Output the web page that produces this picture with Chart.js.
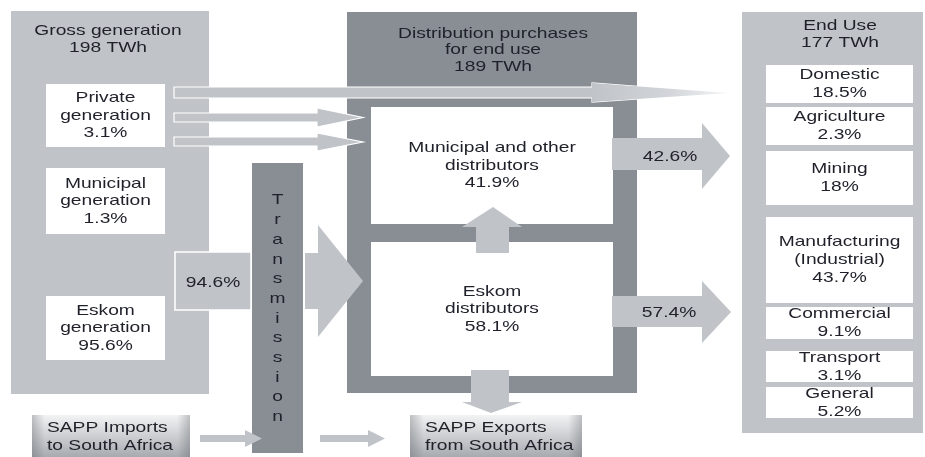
<!DOCTYPE html>
<html lang="en">

<head>
    <meta charset="UTF-8">
    <title>Electricity flows, South Africa</title>
    <script src="https://cdn.jsdelivr.net/npm/chart.js"></script>
    <style>
        body {
            margin: 0;
            background: #fff;
        }
    </style>
</head>

<body>
    <canvas id="flowChart" width="925" height="457"></canvas>

    <script>
        // values
        const totalsTWh = [198, 189, 177]; // gross generation, distribution purchases, end use
        const genLabels = ['Private\ngeneration', 'Municipal\ngeneration', 'Eskom\ngeneration'];
        const genShares = [3.1, 1.3, 95.6];
        const transmissionShare = 94.6;
        const distLabels = ['Municipal and other\ndistributors', 'Eskom\ndistributors'];
        const distShares = [41.9, 58.1];
        const flowShares = [42.6, 57.4];
        const endUseLabels = ['Domestic', 'Agriculture', 'Mining', 'Manufacturing\n(Industrial)', 'Commercial', 'Transport', 'General'];
        const endUseShares = [18.5, 2.3, 18, 43.7, 9.1, 3.1, 5.2];

        // layout, in axis units (x 0..925, y 0..457 top-down)
        const panels = [[11, 11, 209, 394], [347, 12, 637, 393], [742, 12, 923, 433]];
        const genBoxes = [[46, 84, 165, 147], [46, 168, 165, 234], [46, 296, 165, 360]];
        const distBoxes = [[371, 107, 613, 224], [371, 242, 613, 376]];
        const endBoxes = [[766, 65, 913, 103], [766, 107, 913, 145], [766, 151, 913, 205], [766, 217, 913, 303],
            [766, 307, 913, 339], [766, 351, 913, 382], [766, 387, 913, 418]];

        const LIGHT = '#c0c4c9';
        const DARK = '#898e94';
        const INK = '#1f2029';
        const FONT = '15px "Liberation Sans", Arial, sans-serif';
        const STRETCH = 1.28; // the source text is drawn wide

        const pct = v => v + '%';

        const diagram = {
            id: 'diagram',
            beforeDraw(chart) {
                const ctx = chart.ctx;
                const sx = chart.scales.x, sy = chart.scales.y;
                const X = v => sx.getPixelForValue(v);
                const Y = v => sy.getPixelForValue(v);

                function rect(b, fill, stroke) {
                    const x0 = X(b[0]), y0 = Y(b[1]), x1 = X(b[2]), y1 = Y(b[3]);
                    ctx.fillStyle = fill;
                    ctx.fillRect(x0, y0, x1 - x0, y1 - y0);
                    if (stroke) {
                        ctx.strokeStyle = stroke;
                        ctx.lineWidth = 1.5;
                        ctx.strokeRect(x0, y0, x1 - x0, y1 - y0);
                    }
                }

                function poly(pts, fill, stroke) {
                    ctx.beginPath();
                    pts.forEach((p, i) => i ? ctx.lineTo(X(p[0]), Y(p[1])) : ctx.moveTo(X(p[0]), Y(p[1])));
                    ctx.closePath();
                    ctx.fillStyle = fill;
                    ctx.fill();
                    if (stroke) {
                        ctx.strokeStyle = stroke;
                        ctx.lineWidth = 1.2;
                        ctx.stroke();
                    }
                }

                function text(lines, cx, cy, lh, align) {
                    const top = cy - (lines.length - 1) * lh / 2;
                    lines.forEach((l, i) => {
                        ctx.save();
                        ctx.font = FONT;
                        ctx.fillStyle = INK;
                        ctx.textAlign = align || 'center';
                        ctx.textBaseline = 'middle';
                        ctx.translate(X(cx), Y(top + i * lh));
                        ctx.scale(STRETCH, 1);
                        ctx.fillText(l, 0, 0);
                        ctx.restore();
                    });
                }

                const boxText = (b, lines, lh) => text(lines, (b[0] + b[2]) / 2, (b[1] + b[3]) / 2, lh);

                // big panels
                rect(panels[0], LIGHT);
                rect(panels[1], DARK);
                rect(panels[2], LIGHT);

                // white boxes
                genBoxes.forEach((b, i) => {
                    rect(b, '#fff');
                    boxText(b, [...genLabels[i].split('\n'), pct(genShares[i])], 17.5);
                });
                distBoxes.forEach((b, i) => {
                    rect(b, '#fff');
                    boxText(b, [...distLabels[i].split('\n'), pct(distShares[i])], 17.5);
                });
                endBoxes.forEach((b, i) => {
                    rect(b, '#fff');
                    boxText(b, [...endUseLabels[i].split('\n'), pct(endUseShares[i])], 18);
                });

                // panel headings
                text(['Gross generation', totalsTWh[0] + ' TWh'], 108, 39, 17);
                text(['Distribution purchases', 'for end use', totalsTWh[1] + ' TWh'], 493, 50, 16.5);
                text(['End Use', totalsTWh[2] + ' TWh'], 840, 34, 17);

                // transmission column and flow into distribution
                rect([252, 163, 303, 453], DARK);
                'Transmission'.split('').forEach((ch, i) => text([ch], 277.5, 200 + (i ? 20 + (i - 1) * 19.7 : 0), 0));
                rect([175, 252, 251, 310], LIGHT, '#fff');
                text([pct(transmissionShare)], 213, 283, 0);
                poly([[305, 253], [318, 253], [318, 225], [363, 281], [318, 337], [318, 309], [305, 309]], LIGHT);

                // private generation arrows; the long one fades out towards its tip
                const fade = ctx.createLinearGradient(X(592), 0, X(727), 0);
                fade.addColorStop(0, LIGHT);
                fade.addColorStop(0.6, '#d3d6da');
                fade.addColorStop(1, '#f4f5f6');
                poly([[174, 87], [592, 87], [592, 83], [727, 93], [592, 102], [592, 98], [174, 98]], LIGHT, '#fff');
                poly([[592, 83], [727, 93], [592, 102]], fade);
                poly([[174, 113], [317, 113], [317, 108], [363, 117.5], [317, 127], [317, 122], [174, 122]], LIGHT, '#fff');
                poly([[174, 137], [317, 137], [317, 133], [363, 142], [317, 151], [317, 146], [174, 146]], LIGHT, '#fff');

                // Eskom -> municipal, Eskom -> exports
                poly([[476, 253], [476, 227], [462, 227], [493, 207], [522, 227], [509, 227], [509, 253]], LIGHT);
                poly([[471, 370], [509, 370], [509, 402], [522, 402], [491, 413], [462, 402], [471, 402]], LIGHT);

                // distribution -> end use
                poly([[612, 138], [702, 138], [702, 123], [730, 156], [702, 189], [702, 170], [612, 170]], LIGHT);
                poly([[612, 296], [702, 296], [702, 281], [731, 312], [702, 343], [702, 327], [612, 327]], LIGHT);
                text([pct(flowShares[0])], 670, 157, 0);
                text([pct(flowShares[1])], 669, 313, 0);

                // SAPP boxes
                function sapp(b, lines) {
                    const x0 = X(b[0]), y0 = Y(b[1]), x1 = X(b[2]), y1 = Y(b[3]);
                    const gv = ctx.createLinearGradient(0, y0, 0, y1);
                    gv.addColorStop(0, '#f3f3f4');
                    gv.addColorStop(1, '#a7abb0');
                    ctx.fillStyle = gv;
                    ctx.fillRect(x0, y0, x1 - x0, y1 - y0);
                    const gh = ctx.createLinearGradient(x0, 0, x1, 0);
                    gh.addColorStop(0, 'rgba(90,95,100,0.35)');
                    gh.addColorStop(0.08, 'rgba(90,95,100,0)');
                    gh.addColorStop(0.92, 'rgba(90,95,100,0)');
                    gh.addColorStop(1, 'rgba(90,95,100,0.35)');
                    ctx.fillStyle = gh;
                    ctx.fillRect(x0, y0, x1 - x0, y1 - y0);
                    lines.forEach((l, i) => text([l], b[0] + 15, 428 + i * 18, 0, 'left'));
                }
                sapp([32, 415, 190, 457], ['SAPP Imports', 'to South Africa']);
                sapp([410, 415, 582, 457], ['SAPP Exports', 'from South Africa']);
                poly([[200, 435], [245, 435], [245, 430], [262, 438.5], [245, 447], [245, 442], [200, 442]], LIGHT);
                poly([[320, 435], [368, 435], [368, 430], [385, 438.5], [368, 447], [368, 442], [320, 442]], LIGHT);
            }
        };

        const flowChart = new Chart(document.getElementById('flowChart'), {
            type: 'scatter',
            data: { datasets: [{ data: [] }] },
            options: {
                responsive: false,
                animation: false,
                events: [],
                layout: { padding: 0 },
                scales: {
                    x: { type: 'linear', min: 0, max: 925, display: false },
                    y: { type: 'linear', min: 0, max: 457, reverse: true, display: false }
                },
                plugins: { legend: { display: false }, tooltip: { enabled: false } }
            },
            plugins: [diagram]
        });
    </script>
</body>

</html>
